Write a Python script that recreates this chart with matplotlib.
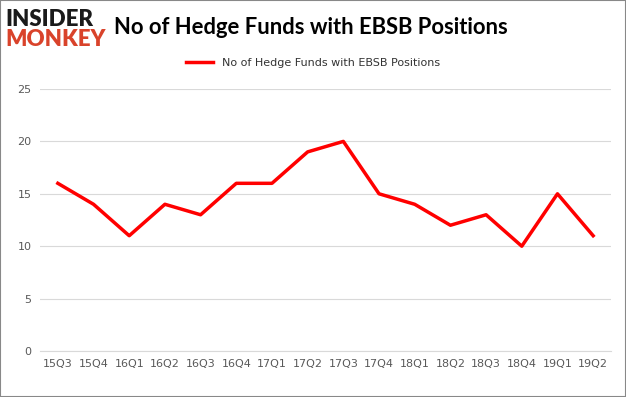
import matplotlib
import matplotlib.pyplot as plt
from matplotlib.patches import Rectangle

matplotlib.use("Agg")

quarters = ["15Q3", "15Q4", "16Q1", "16Q2", "16Q3", "16Q4", "17Q1", "17Q2",
            "17Q3", "17Q4", "18Q1", "18Q2", "18Q3", "18Q4", "19Q1", "19Q2"]
funds = [16, 14, 11, 14, 13, 16, 16, 19, 20, 15, 14, 12, 13, 10, 15, 11]
yticks = [0, 5, 10, 15, 20, 25]
series_name = "No of Hedge Funds with EBSB Positions"

fig = plt.figure(figsize=(6.26, 3.97), dpi=100)
ax = fig.add_axes([40 / 626, 1 - 351 / 397, 571 / 626, 262 / 397])

x = list(range(len(quarters)))
ax.plot(x, funds, color="#ff0000", linewidth=2.5, label=series_name)
ax.set_xlim(-0.5, len(quarters) - 0.5)
ax.set_ylim(0, 25)
ax.set_yticks(yticks)
ax.set_xticks(x)
ax.set_xticklabels(quarters)
ax.grid(axis="y", color="#d9d9d9", linewidth=0.8)
ax.set_axisbelow(True)
for side in ["top", "right", "left"]:
    ax.spines[side].set_visible(False)
ax.spines["bottom"].set_color("#d9d9d9")
ax.tick_params(axis="both", length=0, labelsize=8, colors="#595959", pad=6)

leg = fig.legend(loc="center", bbox_to_anchor=(0.5, 1 - 63 / 397), frameon=False,
                 fontsize=8, handlelength=2.5)
for t in leg.get_texts():
    t.set_color("#333333")

fig.text(311 / 626, 1 - 27 / 397, series_name, fontsize=15.8, fontweight="bold",
         family="Lato", ha="center", va="center", color="#000000")
fig.text(5 / 626, 1 - 19 / 397, "INSIDER", fontsize=16, fontweight="heavy",
         family="Lato", ha="left", va="center", color="#1a1a1a")
fig.text(5 / 626, 1 - 40 / 397, "MONKEY", fontsize=16, fontweight="heavy",
         family="Lato", ha="left", va="center", color="#d9432b")

fig.patches.append(Rectangle((0, 0), 1, 1, transform=fig.transFigure,
                             fill=False, edgecolor="#888888", linewidth=1.5))

fig.savefig("out.png", dpi=100)
